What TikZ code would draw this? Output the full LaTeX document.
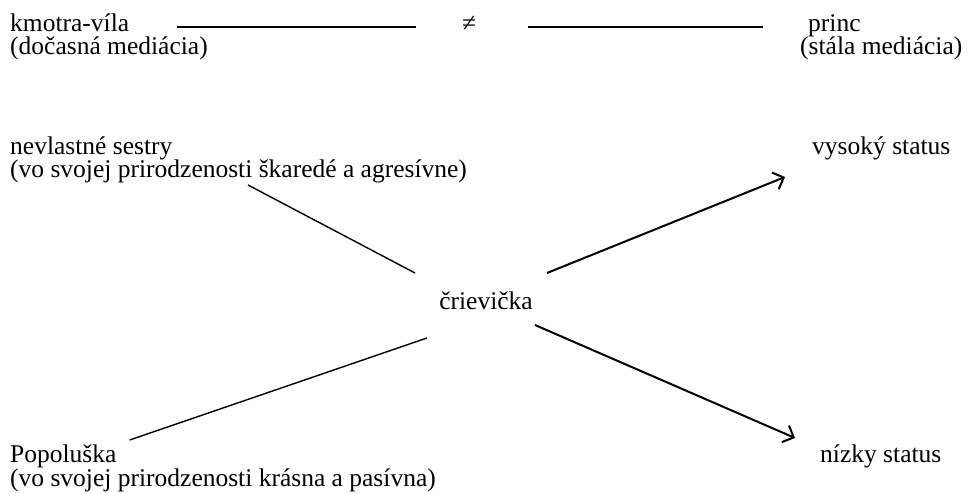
\documentclass[tikz,border=0pt]{standalone}
\usepackage{fontspec}
\setmainfont{Liberation Serif}
\usetikzlibrary{arrows.meta}
\tikzset{
    txt/.style={inner sep=0pt, anchor=base west, font=\fontsize{25.5}{23}\selectfont},
    bar/.style={line width=2pt},
    tie/.style={line width=1.4pt},
    goes/.style={line width=2pt, -{Straight Barb[length=9pt, width=18pt]}},
}
\begin{document}
\begin{tikzpicture}[x=1pt, y=-1pt]
\def\raiseBar{5pt}
\useasboundingbox (0,0) rectangle (970,494);
\node[txt] (fairy) at (10,32) {kmotra-víla};
\node[txt] (fairyNote) at (10,55) {(dočasná mediácia)};
\node[txt, anchor=base] (neq) at (469,32) {≠};
\node[txt] (prince) at (808,32) {princ};
\node[txt] (princeNote) at (800,55) {(stála mediácia)};
\node[txt] (sisters) at (10,155) {nevlastné sestry};
\node[txt] (sistersNote) at (10,178) {(vo svojej prirodzenosti škaredé a agresívne)};
\node[txt] (high) at (812,155) {vysoký status};
\node[txt, anchor=base] (shoe) at (486,310) {črievička};
\node[txt] (cinderella) at (10,463) {Popoluška};
\node[txt] (cinderellaNote) at (10,486) {(vo svojej prirodzenosti krásna a pasívna)};
\node[txt] (low) at (820,463) {nízky status};
\draw[bar, shorten <=48pt, shorten >=46pt] ([yshift=\raiseBar]fairy.base east) -- ([yshift=\raiseBar]neq.base west);
\draw[bar, shorten <=52pt, shorten >=45pt] ([yshift=\raiseBar]neq.base east) -- ([yshift=\raiseBar]prince.base west);
\draw[tie] ([shift={(238,7)}]sistersNote.base west) -- ([shift={(-71,-37)}]shoe.base);
\draw[goes] ([shift={(61,-37)}]shoe.base) -- ([shift={(-27,22)}]high.base west);
\draw[tie] ([shift={(-59,28)}]shoe.base) -- ([shift={(13,-23)}]cinderella.base east);
\draw[goes] ([shift={(49,15)}]shoe.base) -- ([shift={(-25,-25)}]low.base west);
\end{tikzpicture}
\end{document}
